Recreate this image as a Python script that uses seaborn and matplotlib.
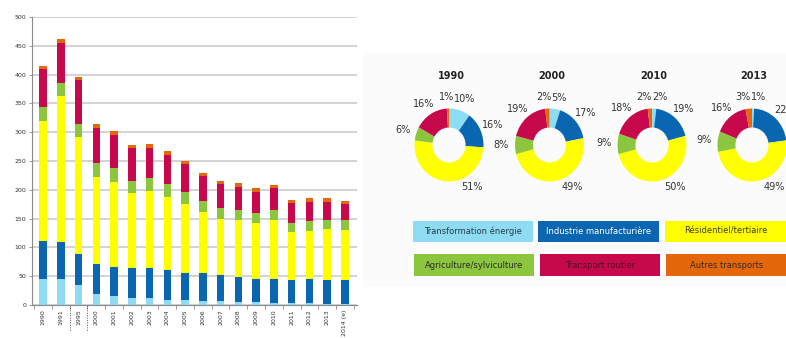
import numpy as np
import pandas as pd
import matplotlib
matplotlib.use("Agg")
import matplotlib.pyplot as plt
import matplotlib.transforms as mtransforms
from matplotlib.patches import Rectangle
import seaborn as sns

# Emissions by sector (stacked bars)
years = ["1990", "1991", "1995", "2000", "2001", "2002", "2003", "2004", "2005",
         "2006", "2007", "2008", "2009", "2010", "2011", "2012", "2013", "2014 (e)"]
transformation = [46, 45, 34, 19, 16, 13, 13, 9, 9, 7, 7, 6, 5, 4, 3, 3, 2, 2]
industrie = [65, 64, 55, 53, 50, 52, 52, 52, 47, 48, 45, 43, 40, 41, 40, 42, 42, 41]
residentiel = [209, 253, 202, 151, 148, 129, 133, 127, 120, 107, 97, 99, 97, 103, 83, 84, 88, 88]
agriculture = [23, 23, 23, 23, 23, 22, 22, 22, 20, 19, 19, 17, 17, 17, 17, 17, 16, 17]
routier = [66, 70, 77, 61, 58, 56, 53, 50, 49, 43, 42, 39, 37, 38, 34, 32, 30, 27]
autres = [6, 7, 5, 7, 7, 6, 7, 7, 5, 6, 6, 7, 7, 6, 6, 7, 7, 6]

sectors = ["Transformation énergie", "Industrie manufacturière", "Résidentiel/tertiaire",
           "Agriculture/sylviculture", "Transport routier", "Autres transports"]
colors = ["#8ddcf4", "#0b66b2", "#ffff00", "#8cc63e", "#c8084c", "#e4670c"]

# Sector shares (%) for selected years
pie_years = ["1990", "2000", "2010", "2013"]
share_1990 = [10, 16, 51, 6, 16, 1]
share_2000 = [5, 17, 49, 8, 19, 2]
share_2010 = [2, 19, 50, 9, 18, 2]
share_2013 = [1, 22, 49, 9, 16, 3]

sns.set_theme(style="white")
plt.rcParams["font.family"] = ["DejaVu Sans"]

W, H = 786, 338
fig = plt.figure(figsize=(W / 100, H / 100), dpi=100)
fig.patch.set_facecolor("white")

# faint panel behind the donut section
fig.add_artist(Rectangle((363 / W, 51 / H), (W - 363) / W, 234 / H,
                         transform=fig.transFigure, facecolor="#fbfbfb",
                         edgecolor="none", zorder=-5))

ax = fig.add_axes([32 / W, 33 / H, 325 / W, 288 / H])
df = pd.DataFrame({"year": years})
parts = np.array([transformation, industrie, residentiel, agriculture, routier, autres])
cum = np.cumsum(parts, axis=0)
for k in reversed(range(len(sectors))):
    df["level"] = cum[k]
    sns.barplot(data=df, x="year", y="level", order=years, color=colors[k],
                width=0.42, saturation=1, errorbar=None, linewidth=0, ax=ax)

ax.set_xlim(-0.62, 17.68)
ax.set_ylim(0, 500)
ax.set_yticks(np.arange(0, 501, 50))
ax.set_xlabel("")
ax.set_ylabel("")
ax.yaxis.grid(True, color="#c8c8c8", linewidth=1.1)
ax.xaxis.grid(False)
ax.set_axisbelow(True)
for s in ["top", "right"]:
    ax.spines[s].set_visible(False)
for s in ["left", "bottom"]:
    ax.spines[s].set_color("#8a8a8a")
    ax.spines[s].set_linewidth(0.8)
ax.tick_params(axis="y", which="major", labelsize=4.5, labelcolor="#333333",
               color="#8a8a8a", length=2, width=0.6, pad=2, left=True)
ax.set_xticks(range(len(years)))
ax.set_xticklabels(years, rotation=90, fontsize=4.5, color="#333333")
ax.tick_params(axis="x", which="major", length=0, pad=3)
ax.set_xticks(np.arange(-0.5, len(years), 1), minor=True)
ax.tick_params(axis="x", which="minor", length=3, width=0.6, color="#8a8a8a", bottom=True)

# dotted separators marking breaks in the year sequence
trans = mtransforms.blended_transform_factory(ax.transData, ax.transAxes)
for xs in (1.5, 2.5):
    ax.plot([xs, xs], [0, -0.09], transform=trans, color="#555555",
            linestyle=(0, (1, 1.5)), linewidth=0.7, clip_on=False)

# donut charts
shares = [share_1990, share_2000, share_2010, share_2013]
centers = [449, 549.5, 652, 752]
cy = 145
rx, ry = 34.5, 36.5
lab_r = 48.0
for yr, vals, cx in zip(pie_years, shares, centers):
    pax = fig.add_axes([(cx - rx) / W, (H - cy - ry) / H, 2 * rx / W, 2 * ry / H])
    pax.pie(vals, colors=colors, startangle=90, counterclock=False,
            wedgeprops=dict(width=0.52, linewidth=0))
    pax.set_aspect("auto")
    pax.set_xlim(-1, 1)
    pax.set_ylim(-1, 1)
    pax.axis("off")

    mids = np.cumsum(vals) - np.array(vals) / 2
    big = int(np.argmax(vals))
    labels = [f"{v}%" for v in vals]
    # label positions in pixels relative to the donut centre
    pos = []
    for idx, m in enumerate(mids):
        ang_deg = 152 if idx == big else 360 * m / 100
        ang = np.deg2rad(90 - ang_deg)
        pos.append([lab_r * np.cos(ang), lab_r * np.sin(ang)])
    pos = np.array(pos)
    # spread labels that crowd together near the top of the ring
    halfw = np.array([len(t) * 3.3 for t in labels])
    for _ in range(30):
        for a in range(len(pos)):
            for b in range(len(pos)):
                if a >= b:
                    continue
                dx = pos[b, 0] - pos[a, 0]
                dy = pos[b, 1] - pos[a, 1]
                need = halfw[a] + halfw[b] + 2
                if abs(dy) < 10 and abs(dx) < need:
                    push = (need - abs(dx)) / 2
                    sgn = 1 if dx >= 0 else -1
                    pos[a, 0] -= sgn * push
                    pos[b, 0] += sgn * push
    for (px, py), t in zip(pos, labels):
        pax.text(px / rx, py / ry, t, ha="center", va="center",
                 fontsize=7, color="#333333", clip_on=False)
    fig.text((cx + 2) / W, (H - 76) / H, yr, ha="center", va="center",
             fontsize=7, fontweight="bold", color="#222222")

# sector key boxes
boxes = [(413, 96, 120, 21), (538, 96, 121, 21), (665, 96, 122, 21),
         (414, 62, 120, 22), (540, 62, 120, 22), (666, 62, 121, 22)]
text_colors = ["#2b3a45", "white", "#3a3a2a", "#2b2b2b", "#4a0f20", "#3a2a20"]
for (bx, by, bw, bh), name, col, tc in zip(boxes, sectors, colors, text_colors):
    fig.add_artist(Rectangle((bx / W, by / H), bw / W, bh / H, transform=fig.transFigure,
                             facecolor=col, edgecolor="none"))
    fig.text((bx + bw / 2) / W, (by + bh / 2) / H, name, ha="center", va="center",
             fontsize=6, color=tc)

fig.savefig("out.png", dpi=100, facecolor="white")
